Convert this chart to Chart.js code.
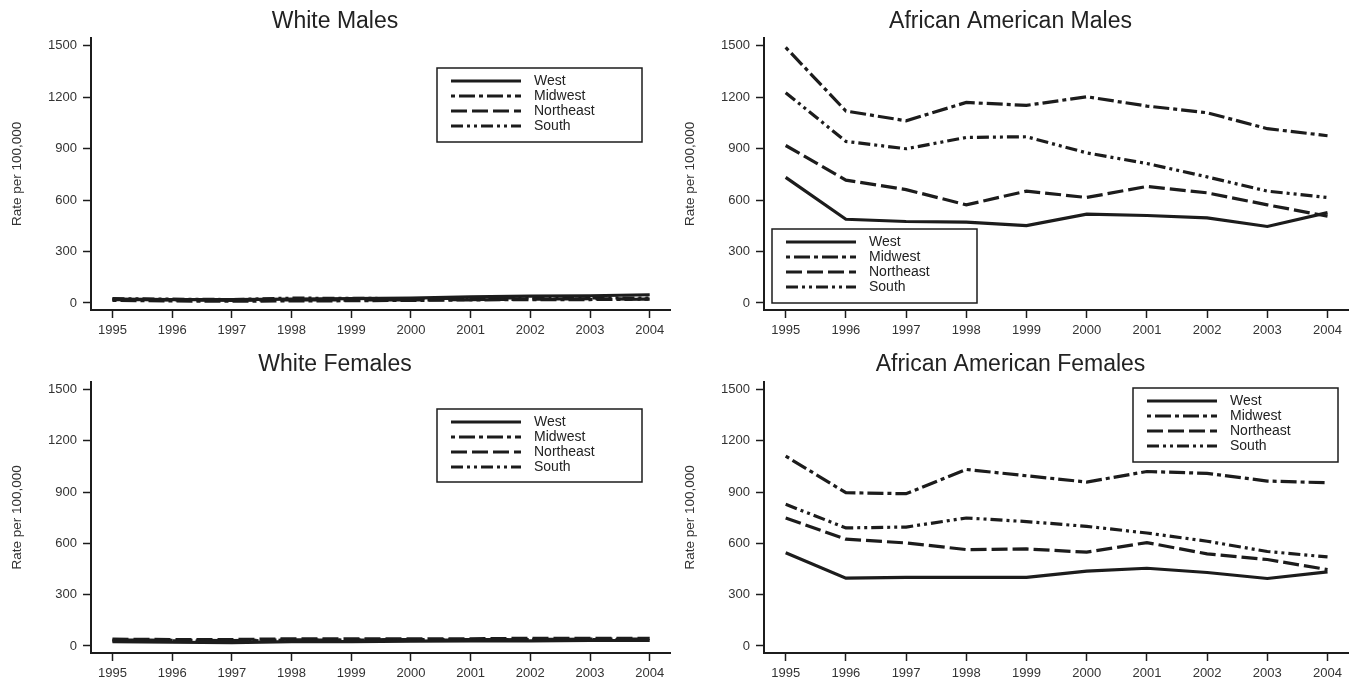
<!DOCTYPE html>
<html>
<head>
<meta charset="utf-8">
<script src="https://cdn.jsdelivr.net/npm/chart.js@4/dist/chart.umd.min.js"></script>
<style>
  body { margin: 0; background: #fff; }
  #wrap { position: relative; width: 1357px; height: 685px; }
  canvas { position: absolute; }
</style>
</head>
<body>
<div id="wrap">
  <canvas id="wm" width="673" height="342" style="left:0;top:0"></canvas>
  <canvas id="am" width="684" height="342" style="left:673px;top:0"></canvas>
  <canvas id="wf" width="673" height="343" style="left:0;top:342px"></canvas>
  <canvas id="af" width="684" height="343" style="left:673px;top:342px"></canvas>
</div>
<script>
const years = [1995, 1996, 1997, 1998, 1999, 2000, 2001, 2002, 2003, 2004];
const regions = ["West", "Midwest", "Northeast", "South"];
const yTicks = [0, 300, 600, 900, 1200, 1500];

// rates per 100,000
const whiteMaleWest = [22, 20, 19, 22, 25, 28, 35, 40, 42, 48];
const whiteMaleMidwest = [15, 12, 10, 12, 13, 15, 18, 20, 20, 22];
const whiteMaleNortheast = [20, 18, 15, 18, 17, 18, 20, 22, 25, 22];
const whiteMaleSouth = [25, 22, 20, 28, 27, 25, 28, 30, 30, 28];

const aaMaleWest = [732, 488, 475, 471, 451, 518, 510, 496, 446, 527];
const aaMaleMidwest = [1490, 1119, 1062, 1169, 1152, 1202, 1148, 1109, 1016, 975];
const aaMaleNortheast = [918, 716, 661, 572, 652, 615, 679, 642, 572, 506];
const aaMaleSouth = [1226, 942, 899, 965, 969, 875, 813, 735, 652, 615];

const whiteFemaleWest = [25, 22, 20, 25, 25, 28, 30, 30, 32, 32];
const whiteFemaleMidwest = [35, 33, 32, 35, 35, 38, 38, 38, 40, 40];
const whiteFemaleNortheast = [40, 38, 38, 42, 42, 42, 42, 45, 45, 45];
const whiteFemaleSouth = [30, 30, 28, 35, 35, 35, 35, 38, 38, 38];

const aaFemaleWest = [545, 397, 401, 401, 401, 438, 455, 430, 395, 434];
const aaFemaleMidwest = [1111, 897, 891, 1033, 996, 959, 1021, 1010, 965, 955];
const aaFemaleNortheast = [749, 625, 603, 564, 568, 549, 605, 539, 506, 447];
const aaFemaleSouth = [829, 691, 696, 749, 728, 700, 661, 613, 553, 521];

const INK = "#1c1c1c";
const FONT = "'Liberation Sans', Arial, Helvetica, sans-serif";
const dashes = [[], [4, 4, 16, 4], [16, 5], [12, 4, 3, 4, 3, 4]];

// boxed legend drawn inside the plot, like the original
const boxLegend = {
  id: "boxLegend",
  afterDraw(chart, args, opts) {
    const ctx = chart.ctx;
    const { x, y, w, h } = opts;
    ctx.save();
    ctx.fillStyle = "#fff";
    ctx.fillRect(x, y, w, h);
    ctx.lineWidth = 1.5;
    ctx.strokeStyle = INK;
    ctx.strokeRect(x, y, w, h);
    ctx.font = "14px " + FONT;
    ctx.textBaseline = "middle";
    ctx.fillStyle = "#222";
    chart.data.datasets.forEach((ds, i) => {
      const ry = y + 13 + i * 15;
      ctx.beginPath();
      ctx.setLineDash(ds.borderDash);
      ctx.lineWidth = 3;
      ctx.moveTo(x + 14, ry);
      ctx.lineTo(x + 84, ry);
      ctx.stroke();
      ctx.setLineDash([]);
      ctx.fillText(ds.label, x + 97, ry);
    });
    ctx.restore();
  }
};

function makePanel(id, title, series, legendBox, titlePad, rightPad) {
  const datasets = series.map((vals, i) => ({
    label: regions[i],
    data: vals.map((v, j) => ({ x: years[j], y: v })),
    borderColor: INK,
    borderWidth: 3.2,
    borderDash: dashes[i],
    pointRadius: 0,
    tension: 0,
    fill: false
  }));
  const axisGrid = {
    drawOnChartArea: false,
    drawTicks: true,
    tickLength: 8,
    tickWidth: 1.5,
    tickColor: INK
  };
  return new Chart(document.getElementById(id), {
    type: "line",
    data: { datasets },
    plugins: [boxLegend],
    options: {
      responsive: false,
      animation: false,
      devicePixelRatio: 1,
      layout: { padding: { left: 0, right: rightPad, top: 0, bottom: 0 } },
      plugins: {
        legend: { display: false },
        tooltip: { enabled: false },
        title: {
          display: true,
          text: title,
          color: "#222",
          font: { family: FONT, size: 23, weight: "normal", lineHeight: 1.2 },
          padding: titlePad
        },
        boxLegend: legendBox
      },
      scales: {
        x: {
          type: "linear",
          min: 1994.64,
          max: 2004.34,
          afterBuildTicks: s => { s.ticks = years.map(v => ({ value: v })); },
          afterFit: s => { s.height = 32; },
          ticks: {
            color: "#333",
            font: { family: FONT, size: 13 },
            padding: 5,
            maxRotation: 0,
            autoSkip: false,
            callback: v => String(v)
          },
          grid: axisGrid,
          border: { display: true, color: INK, width: 2 }
        },
        y: {
          min: -41,
          max: 1547,
          afterBuildTicks: s => { s.ticks = yTicks.map(v => ({ value: v })); },
          afterFit: s => { s.width = 91; },
          ticks: {
            color: "#333",
            font: { family: FONT, size: 13 },
            padding: 6,
            callback: v => String(v)
          },
          grid: axisGrid,
          border: { display: true, color: INK, width: 2 },
          title: {
            display: true,
            text: "Rate per 100,000",
            color: "#333",
            font: { family: FONT, size: 13.5 },
            padding: { top: 9, bottom: 0 }
          }
        }
      }
    }
  });
}

makePanel("wm", "White Males",
  [whiteMaleWest, whiteMaleMidwest, whiteMaleNortheast, whiteMaleSouth],
  { x: 437, y: 68, w: 205, h: 74 }, { top: 8, bottom: 2 }, 3);
makePanel("am", "African American Males",
  [aaMaleWest, aaMaleMidwest, aaMaleNortheast, aaMaleSouth],
  { x: 99, y: 229, w: 205, h: 74 }, { top: 8, bottom: 2 }, 9);
makePanel("wf", "White Females",
  [whiteFemaleWest, whiteFemaleMidwest, whiteFemaleNortheast, whiteFemaleSouth],
  { x: 437, y: 67, w: 205, h: 73 }, { top: 9, bottom: 3 }, 3);
makePanel("af", "African American Females",
  [aaFemaleWest, aaFemaleMidwest, aaFemaleNortheast, aaFemaleSouth],
  { x: 460, y: 46, w: 205, h: 74 }, { top: 9, bottom: 3 }, 9);
</script>
</body>
</html>
